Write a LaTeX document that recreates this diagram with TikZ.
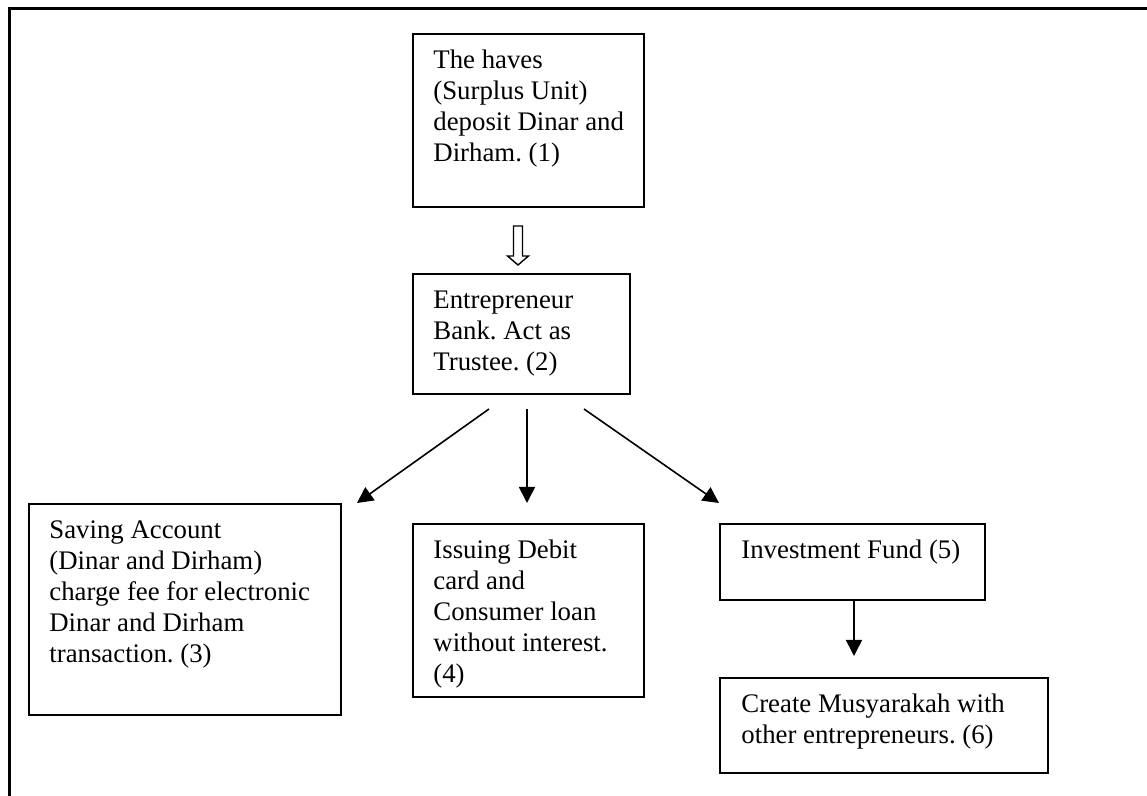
\documentclass[tikz,border=0pt]{standalone}
\usepackage{fontspec}
\setmainfont{Liberation Serif}
\usetikzlibrary{positioning,arrows.meta}
\frenchspacing

\begin{document}
\begin{tikzpicture}[x=0.5pt,y=-0.5pt,
  box/.style={draw, line width=1pt, inner sep=0pt, anchor=north west},
  txt/.style={inner sep=0pt, align=left, font=\fontsize{13.4}{15.5}\selectfont},
  arr/.style={line width=0.8pt, -{Triangle[length=8pt,width=8pt]}},
  hollow/.style={draw, line width=0.7pt, fill=white}]
\useasboundingbox (0,0) rectangle (1147,796);
\draw[line width=1.5pt] (9,796) -- (9,9) -- (1147,9);

% boxes
\node[box, minimum width=115.5pt, minimum height=86.5pt] (haves) at (412,33) {};
\node[box, minimum width=108.5pt, minimum height=60pt]   (bank)  at (412,273) {};
\node[box, minimum width=156pt,   minimum height=105.5pt] (saving) at (28,503) {};
\node[box, minimum width=115.5pt, minimum height=86.5pt] (debit) at (412,523) {};
\node[box, minimum width=132.5pt, minimum height=38pt]   (fund)  at (719,523) {};
\node[box, minimum width=164pt,   minimum height=47.5pt] (musyarakah) at (719,677) {};

% texts
\node[txt, below right=6.65pt and 10.5pt of haves.north west] (havestext)
  {\strut The haves\\(Surplus Unit)\\deposit Dinar and\\Dirham. (1)};
\node[txt, below right=6.65pt and 10.5pt of bank.north west] (banktext)
  {\strut Entrepreneur\\Bank. Act as\\Trustee. (2)};
\node[txt, below right=6.65pt and 10.5pt of saving.north west] (savingtext)
  {\strut Saving Account\\(Dinar and Dirham)\\charge fee for electronic\\Dinar and Dirham\\transaction. (3)};
\node[txt, below right=6.65pt and 10.5pt of debit.north west] (debittext)
  {\strut Issuing Debit\\card and\\Consumer loan\\without interest.\\(4)};
\node[txt, below right=6.65pt and 11pt of fund.north west] (fundtext)
  {\strut Investment Fund (5)};
\node[txt, below right=6.65pt and 11pt of musyarakah.north west] (musyarakahtext)
  {\strut Create Musyarakah with\\other entrepreneurs. (6)};

% arrows
\draw[hollow] ([xshift=-5.25pt,yshift=-9pt]haves.south) coordinate (flow)
  ++(-4.5,0) -- ++(0,30) -- ++(-6,0) -- ++(10.5,9) -- ++(10.5,-9)
  -- ++(-6,0) -- ++(0,-30) -- cycle;
\draw[arr] ([xshift=38.5pt,yshift=-7pt]bank.south west) -- ([xshift=7.5pt]saving.north east);
\draw[arr] ([xshift=57.5pt,yshift=-7pt]bank.south west) -- ([xshift=57.5pt,yshift=10pt]debit.north west);
\draw[arr] ([xshift=86pt,yshift=-7pt]bank.south west) -- ([yshift=10pt]fund.north west);
\draw[arr] ([xshift=67.5pt]fund.south west) -- ([xshift=67.5pt,yshift=10.5pt]musyarakah.north west);
\end{tikzpicture}
\end{document}
